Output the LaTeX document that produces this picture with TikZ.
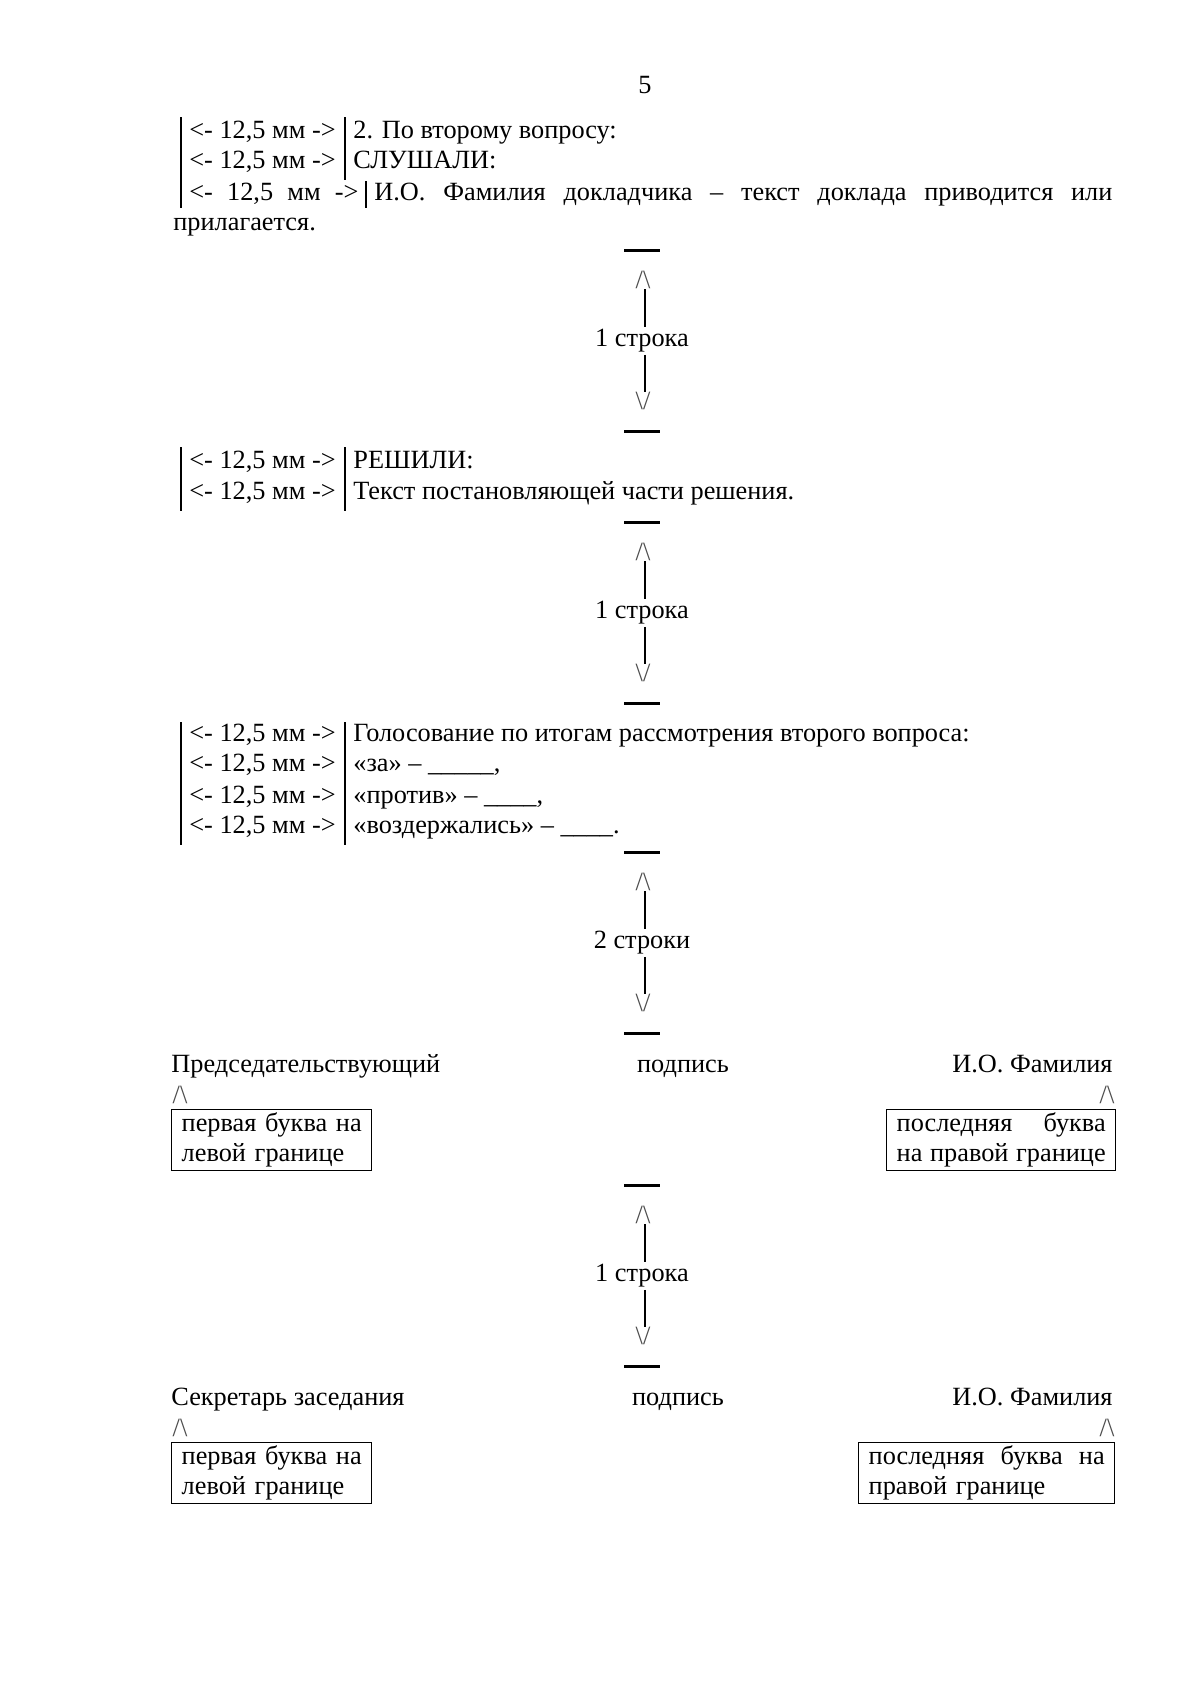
\documentclass[tikz,border=0pt]{standalone}
\usepackage{fontspec}
\setmainfont{Liberation Serif}
\usetikzlibrary{positioning,calc}
\newdimen\pix
\pix=0.175mm
\newcommand{\docfont}{\fontsize{13.1}{15}\selectfont}
\newcommand{\ind}{<- 12,5 мм ->}
% a line of text spread to a given width
\newcommand{\spread}[2]{\makebox[#1][s]{\spaceskip=0pt\relax #2}}
\tikzset{
  row/.style={inner sep=0pt, anchor=mid west, font=\docfont},
  rowend/.style={inner sep=0pt, anchor=mid east, font=\docfont},
  rowmid/.style={inner sep=0pt, anchor=mid, font=\docfont},
  caret/.style={inner sep=0pt, font=\docfont, text=black!70},
  gaplab/.style={inner sep=1pt, font=\docfont},
  vbar/.style={draw=black, line width=1.1pt},
  gapbar/.style={draw=black, line width=1.5pt},
  tick/.style={draw=black, line width=0.8pt},
  signbox/.style={draw=black, line width=0.7pt, inner xsep=10\pix, inner ysep=1.5pt,
    font=\docfont, align=left, anchor=north west},
}

\begin{document}
\begin{tikzpicture}[x=0.175mm, y=-0.175mm]
  \useasboundingbox[fill=white] (0,0) rectangle (1200,1696);
  \node[rowmid] (page) at (645,89) {5};

  % second question, heard
  \draw[vbar] (181,117) -- (181,208);
  \draw[vbar] (345,117) -- (345,180);
  \draw[vbar] (366,181) -- (366,208);
  \node[row] (ind1) at (189,134) {\ind};
  \node[row] (q2) at (353,134) {2. По второму вопросу:};
  \node[row] (ind2) at (189,164) {\ind};
  \node[row] (heard) at (353,164) {СЛУШАЛИ:};
  \node[row] (ind3) at (189,196) {\spread{169\pix}{\ind}};
  \node[row] (report) at (374,196) {\spread{738\pix}{И.О. Фамилия докладчика – текст доклада приводится или}};
  \node[row] (report2) at (173,226) {прилагается.};

  % decided
  \draw[vbar] (181,447) -- (181,511);
  \draw[vbar] (345,447) -- (345,511);
  \node[row] (ind4) at (189,464) {\ind};
  \node[row] (decided) at (353,464) {РЕШИЛИ:};
  \node[row] (ind5) at (189,495) {\ind};
  \node[row] (decision) at (353,495) {Текст постановляющей части решения.};

  % voting
  \draw[vbar] (181,722) -- (181,845);
  \draw[vbar] (345,722) -- (345,845);
  \foreach \y/\nm in {737/a,767/b,799/c,829/d}{
    \node[row] (ind\nm) at (189,\y) {\ind};
  }
  \node[row] (vote) at (353,737) {Голосование по итогам рассмотрения второго вопроса:};
  \node[row] (pro) at (353,767) {«за» – \_\_\_\_\_,};
  \node[row] (contra) at (353,799) {«против» – \_\_\_\_,};
  \node[row] (abst) at (353,829) {«воздержались» – \_\_\_\_.};

  % line gaps
  \foreach \y/\lbl/\nm in {250/1 строка/a,522/1 строка/b,852/2 строки/c,1185/1 строка/d}{
    \draw[gapbar] (624,\y) -- (660,\y);
    \draw[gapbar] (624,\y+181) -- (660,\y+181);
    \node[caret] (up\nm) at (643,\y+30) {/\textbackslash};
    \node[gaplab] (gap\nm) at (642,\y+91) {\lbl};
    \node[caret] (dn\nm) at (643,\y+151) {\textbackslash/};
    \draw[tick] ($(up\nm.south -| gap\nm)+(3,0)$) -- ($(gap\nm.north)+(3,0)$);
    \draw[tick] ($(gap\nm.south)+(3,0)$) -- ($(dn\nm.north -| gap\nm)+(3,0)$);
  }

  % chairman
  \node[row] (chair) at (171,1068) {Председательствующий};
  \node[rowmid] (sign1) at (683,1068) {подпись};
  \node[rowend] (name1) at (1113,1068) {И.О. Фамилия};
  \node[caret] (chairup) at (180,1095) {/\textbackslash};
  \node[caret] (name1up) at (1107,1095) {/\textbackslash};
  \node[signbox, text width=180\pix] (chairbox) at (171,1109)
    {\spread{180\pix}{первая буква на}\\левой границе};
  \node[signbox, text width=209\pix] (name1box) at (886,1109)
    {\spread{209\pix}{последняя буква}\\\spread{209\pix}{на правой границе}};

  % secretary
  \node[row] (secr) at (171,1401) {Секретарь заседания};
  \node[rowmid] (sign2) at (678,1401) {подпись};
  \node[rowend] (name2) at (1113,1401) {И.О. Фамилия};
  \node[caret] (secrup) at (180,1428) {/\textbackslash};
  \node[caret] (name2up) at (1107,1428) {/\textbackslash};
  \node[signbox, text width=180\pix] (secrbox) at (171,1442)
    {\spread{180\pix}{первая буква на}\\левой границе};
  \node[signbox, text width=236\pix] (name2box) at (858,1442)
    {\spread{236\pix}{последняя буква на}\\правой границе};
\end{tikzpicture}
\end{document}
